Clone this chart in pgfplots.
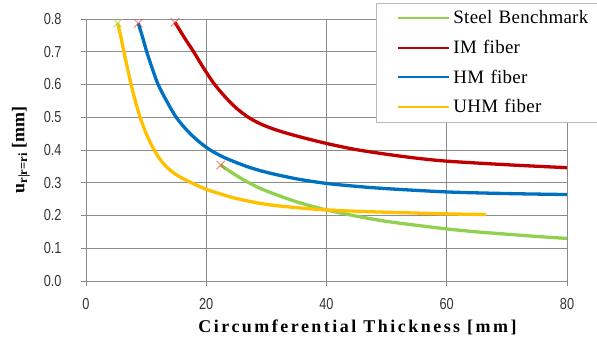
\documentclass[border=0pt]{standalone}
\usepackage{fontspec}
\setmainfont{Liberation Serif}
\newfontfamily\tickfont[FakeStretch=0.8]{Liberation Sans}
\usepackage{pgfplots}
\pgfplotsset{compat=1.18}
\definecolor{cgreen}{RGB}{146,208,80}
\definecolor{cred}{RGB}{192,0,0}
\definecolor{cblue}{RGB}{0,112,192}
\definecolor{corange}{RGB}{255,192,0}
\definecolor{cgrid}{RGB}{140,140,140}
\begin{document}
\begin{tikzpicture}
\useasboundingbox (-86bp,-68bp) rectangle (511bp,281bp);
\begin{axis}[
  at={(0bp,0bp)}, anchor=origin,
  scale only axis, width=481bp, height=262bp,
  xmin=0, xmax=80, ymin=0, ymax=0.8,
  xtick={0,20,40,60,80}, ytick={0,0.1,0.2,0.3,0.4,0.5,0.6,0.7,0.8},
  tick pos=left,
  axis line style={cgrid, line width=0.8pt},
  xmajorgrids=true, ymajorgrids=true,
  x grid style={cgrid, line width=0.9bp},
  y grid style={cgrid, line width=0.9bp},
  tick align=outside, major tick length=5bp,
  major tick style={cgrid, line width=0.8pt},
  ticklabel style={font=\tickfont\fontsize{16}{16}\selectfont, text=black!80, /pgf/number format/assume math mode=true},
  yticklabel style={/pgf/number format/fixed, /pgf/number format/fixed zerofill, /pgf/number format/precision=1, xshift=-16bp},
  xticklabel style={yshift=-9bp},
  xlabel={\bfseries Circumferential Thickness [mm]},
  xlabel style={font=\fontsize{18}{18}\selectfont\addfontfeature{LetterSpace=14}, yshift=-3bp, xshift=31bp},
  ylabel={\bfseries u\textsubscript{r|r=ri} [mm]},
  ylabel style={font=\fontsize{18}{18}\selectfont, yshift=7bp},
  clip=false,
  legend cell align=left,
  legend style={at={(0.603,0.607)}, anchor=south west, draw=cgrid!60, fill=white,
    font=\fontsize{19}{19}\selectfont\addfontfeature{LetterSpace=1.5}, row sep=8.8bp, inner xsep=21bp, inner ysep=4.5bp,
    text width=140bp, nodes={inner sep=3bp}},
  legend image code/.code={\draw[#1, line width=2.2bp] (0bp,0bp) -- (51bp,0bp);},
]
\pgfplotsinvokeforeach{0.1,0.2,0.3,0.4,0.5,0.6,0.7,0.8}{
  \draw[cgrid, line width=0.9bp] (axis cs:0,#1) -- (axis cs:80,#1);
  \draw[cgrid, line width=0.8pt] (axis cs:0,#1) -- ++(-5bp,0bp);
}
\draw[cgrid, line width=0.8pt] (axis cs:0,0) -- ++(-5bp,0bp);
\addplot[cgreen, line width=3.3bp, smooth] coordinates {
(22.4,0.354)(25,0.322)(27.5,0.296)(30,0.275)(35,0.242)(40,0.217)(45,0.198)(50,0.182)(55,0.170)(60,0.159)(65,0.150)(70,0.143)(75,0.136)(80,0.130)};
\addlegendentry{Steel Benchmark}
\addplot[cred, line width=3.3bp, smooth] coordinates {
(14.8,0.790)(16.3,0.745)(17.9,0.700)(19.5,0.652)(21.2,0.605)(23,0.565)(25,0.528)(27,0.500)(29,0.480)(31.5,0.462)(35,0.443)(40,0.420)(45,0.401)(50,0.387)(55,0.375)(60,0.366)(70,0.355)(80,0.346)};
\addlegendentry{IM fiber}
\addplot[cblue, line width=3.3bp, smooth] coordinates {
(8.7,0.787)(9.4,0.745)(10.1,0.700)(11.0,0.650)(12.0,0.600)(13.4,0.550)(15.0,0.500)(16.8,0.460)(18.5,0.430)(20.5,0.402)(23,0.377)(26.7,0.350)(30,0.332)(35,0.312)(40,0.298)(45,0.289)(50,0.282)(60,0.272)(70,0.267)(80,0.264)};
\addlegendentry{HM fiber}
\addplot[corange, line width=3.3bp, smooth] coordinates {
(5.26,0.787)(5.8,0.745)(6.3,0.700)(6.9,0.650)(7.5,0.600)(8.2,0.550)(9.0,0.500)(9.9,0.455)(10.9,0.415)(12,0.380)(13.3,0.350)(14.6,0.330)(16,0.314)(18,0.296)(20.3,0.278)(25,0.252)(30,0.234)(35,0.224)(40,0.217)(45,0.213)(50,0.210)(60,0.205)(66.5,0.203)};
\addlegendentry{UHM fiber}
\addplot[forget plot, only marks, mark=x, mark size=6bp, mark options={line width=1.1bp}, draw=red!80, opacity=0.55] coordinates {(14.8,0.79)(8.7,0.787)(22.4,0.354)};
\addplot[forget plot, only marks, mark=x, mark size=6bp, mark options={line width=1.1bp}, draw=cgreen!80!yellow, opacity=0.7] coordinates {(5.26,0.787)};
\end{axis}
\end{tikzpicture}
\end{document}
